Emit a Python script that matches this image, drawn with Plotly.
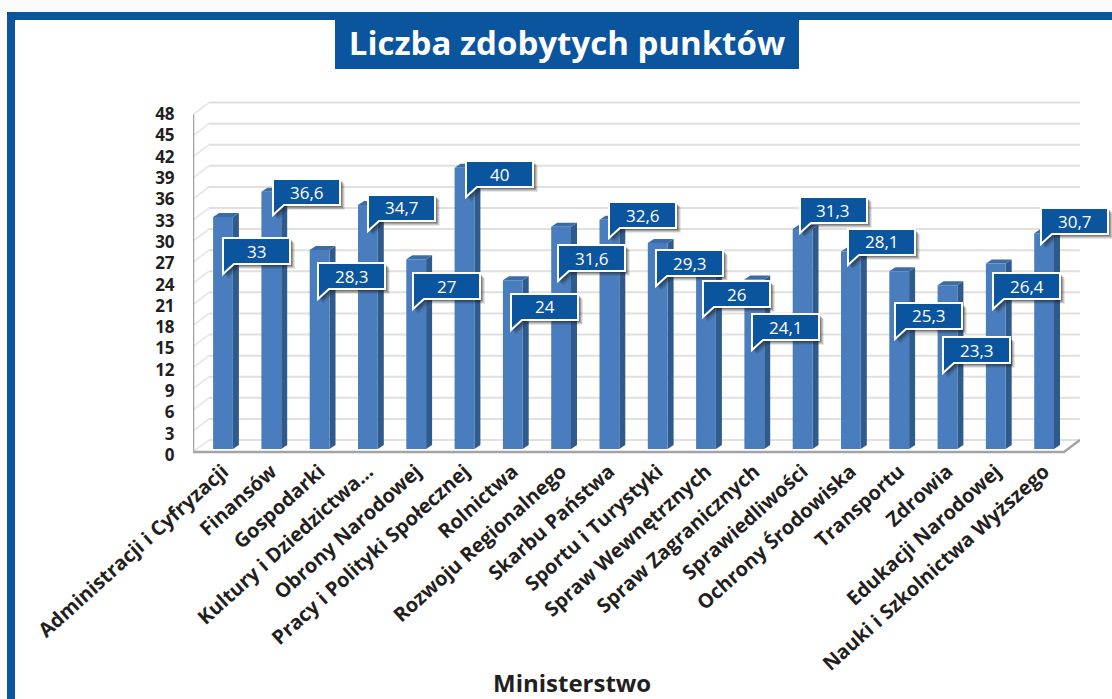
import plotly.graph_objects as go

W, H = 1112, 699

CATEGORIES = ["Administracji i Cyfryzacji", "Finansów", "Gospodarki", "Kultury i Dziedzictwa...",
              "Obrony Narodowej", "Pracy i Polityki Społecznej", "Rolnictwa", "Rozwoju Regionalnego",
              "Skarbu Państwa", "Sportu i Turystyki", "Spraw Wewnętrznych", "Spraw Zagranicznych",
              "Sprawiedliwości", "Ochrony Środowiska", "Transportu", "Zdrowia",
              "Edukacji Narodowej", "Nauki i Szkolnictwa Wyższego"]
POINTS = [33, 36.6, 28.3, 34.7, 27, 40, 24, 31.6, 32.6, 29.3, 26, 24.1, 31.3, 28.1, 25.3, 23.3, 26.4, 30.7]
Y_TICKS = list(range(0, 49, 3))
TITLE = "Liczba zdobytych punktów"
X_TITLE = "Ministerstwo"

# callout layout (page pixels)
LABEL_LEFT = [223, 273, 318, 368, 413, 466, 511, 558, 609, 656, 703, 752, 800, 848, 895, 943, 993, 1041]
LABEL_TOP = [238, 179, 263, 195, 273, 161, 294, 245, 202, 250, 281, 314, 197, 229, 303, 337, 273, 208]
BOX_W, BOX_H, TAIL = 67, 26, 10

BLUE = "#0b559f"
FRONT = "#4a7dbd"
SIDE = "#2f5a8c"
TOP = "#3c6ca6"
GRID = "#e2dfdc"
AXIS = "#a3a3a3"
TEXT = "#231f20"
FONT = "Open Sans"

# plot area in pixels
PX_L, PX_R, PX_T, PX_B = 193, 1080, 100, 455
X0_PX, X_STEP = 223, 48.3
Y0_PX, Y_STEP = 449, 7.03
x_range = [(PX_L - X0_PX) / X_STEP, (PX_R - X0_PX) / X_STEP]
y_range = [(Y0_PX - PX_B) / Y_STEP, (Y0_PX - PX_T) / Y_STEP]
BAR_W = 0.41
DX, DY = 6 / X_STEP, 4 / Y_STEP
WALL_DX = 16 / X_STEP


def px(x):
    return x / W


def py(y):
    return 1 - y / H


shapes = []


def rect(x0, y0, x1, y1, color):
    shapes.append(dict(type="rect", xref="paper", yref="paper", x0=px(x0), x1=px(x1), y0=py(y0), y1=py(y1),
                       fillcolor=color, line_width=0, layer="below"))


# page edge, frame and title plate
rect(0, 0, W, 12, "#fafafa")
rect(0, 0, 7, H, "#fafafa")
rect(7, 12, W, 20, BLUE)
rect(7, 12, 15, H, BLUE)
rect(335, 12, 799, 69, BLUE)

# walls
for v in Y_TICKS:
    shapes.append(dict(type="line", xref="x", yref="y", layer="below",
                       x0=x_range[0] + WALL_DX, x1=x_range[1], y0=v + 1.28, y1=v + 1.28,
                       line=dict(color=GRID, width=2)))
    shapes.append(dict(type="line", xref="x", yref="y", layer="below",
                       x0=x_range[0], x1=x_range[0] + WALL_DX, y0=v - 0.43, y1=v + 1.28,
                       line=dict(color="#ebe9e7", width=2)))
floor_front = -0.43
floor_end = x_range[1] - WALL_DX
shapes.append(dict(type="path", xref="x", yref="y", layer="below",
                   path=f"M {x_range[0]},{48 - 0.43} L {x_range[0]},{floor_front} L {floor_end},{floor_front} "
                        f"L {x_range[1]},{1.28}",
                   line=dict(color=AXIS, width=2.5)))

# 3-D faces of the bars
for i, v in enumerate(POINTS):
    r = i + BAR_W / 2
    l = i - BAR_W / 2
    shapes.append(dict(type="path", xref="x", yref="y", layer="below", fillcolor=SIDE, line_width=0,
                       path=f"M {r},0 L {r + DX},{DY} L {r + DX},{v + DY} L {r},{v} Z"))
    shapes.append(dict(type="path", xref="x", yref="y", layer="below", fillcolor=TOP, line_width=0,
                       path=f"M {l},{v} L {l + DX},{v + DY} L {r + DX},{v + DY} L {r},{v} Z"))

annotations = []
for v, left, top in zip(POINTS, LABEL_LEFT, LABEL_TOP):
    def outline(ox, oy):
        a, b = left + ox, top + oy
        pts = [(a, b), (a + BOX_W, b), (a + BOX_W, b + BOX_H), (a + 11, b + BOX_H), (a, b + BOX_H + TAIL)]
        return "M " + " L ".join(f"{px(p)},{py(q)}" for p, q in pts) + " Z"
    for off, alpha in ((5, 0.10), (4, 0.16), (3, 0.22), (2, 0.28)):
        shapes.append(dict(type="path", xref="paper", yref="paper", layer="above", path=outline(off, off),
                           fillcolor=f"rgba(30,30,30,{alpha})", line_width=0))
    shapes.append(dict(type="path", xref="paper", yref="paper", layer="above", path=outline(0, 0),
                       fillcolor=BLUE, line=dict(color="white", width=2)))
    annotations.append(dict(xref="paper", yref="paper", x=px(left + BOX_W / 2), y=py(top + BOX_H / 2),
                            xanchor="center", yanchor="middle",
                            text=f"{v:g}".replace(".", ","), showarrow=False,
                            font=dict(family=FONT, size=17, color="white")))

annotations.append(dict(xref="paper", yref="paper", x=px(572), y=py(682), xanchor="center", yanchor="middle",
                        text=X_TITLE, showarrow=False, font=dict(family=FONT, size=24, color=TEXT, weight="bold")))

fig = go.Figure()
fig.add_trace(go.Bar(x=CATEGORIES, y=POINTS, width=BAR_W, marker=dict(color=FRONT, line_width=0),
                     showlegend=False, hovertemplate="%{x}: %{y}<extra></extra>"))
# carries the value axis, whose labels sit slightly below the bars' scale
fig.add_trace(go.Scatter(x=[CATEGORIES[0], CATEGORIES[0]], y=[Y_TICKS[0], Y_TICKS[-1]], yaxis="y2", mode="markers",
                         marker=dict(opacity=0), showlegend=False, hoverinfo="skip"))

fig.update_layout(
    width=W, height=H, margin=dict(l=0, r=0, t=0, b=0, autoexpand=False),
    paper_bgcolor="white", plot_bgcolor="rgba(0,0,0,0)", showlegend=False,
    title=dict(text=TITLE, x=567 / W, y=py(43), xanchor="center", yanchor="middle", xref="paper", yref="paper",
               font=dict(family=FONT, size=33, color="white", weight="bold")),
    xaxis=dict(domain=[px(PX_L), px(PX_R)], range=x_range, type="category",
               tickmode="array", tickvals=CATEGORIES, ticktext=CATEGORIES, tickangle=-42,
               tickfont=dict(family=FONT, size=20, color=TEXT, weight="bold"), showgrid=False, zeroline=False,
               showline=False, ticks="", automargin=False),
    yaxis=dict(domain=[py(PX_B), py(PX_T)], range=y_range, visible=False, fixedrange=True),
    yaxis2=dict(domain=[py(PX_B), py(PX_T)], overlaying="y", side="left", anchor="x",
                range=[0, (PX_B - PX_T) / 7.1], tickmode="array", tickvals=Y_TICKS,
                ticks="outside", ticklen=14, tickcolor="rgba(0,0,0,0)", showgrid=False, zeroline=False,
                showline=False, automargin=False,
                tickfont=dict(family=FONT, size=17, color=TEXT, weight="bold")),
    shapes=shapes, annotations=annotations, bargap=0.59,
)

fig.write_html("out.html", config=dict(displayModeBar=False),
               post_script="document.body.style.margin='0';document.body.style.overflow='hidden';")
